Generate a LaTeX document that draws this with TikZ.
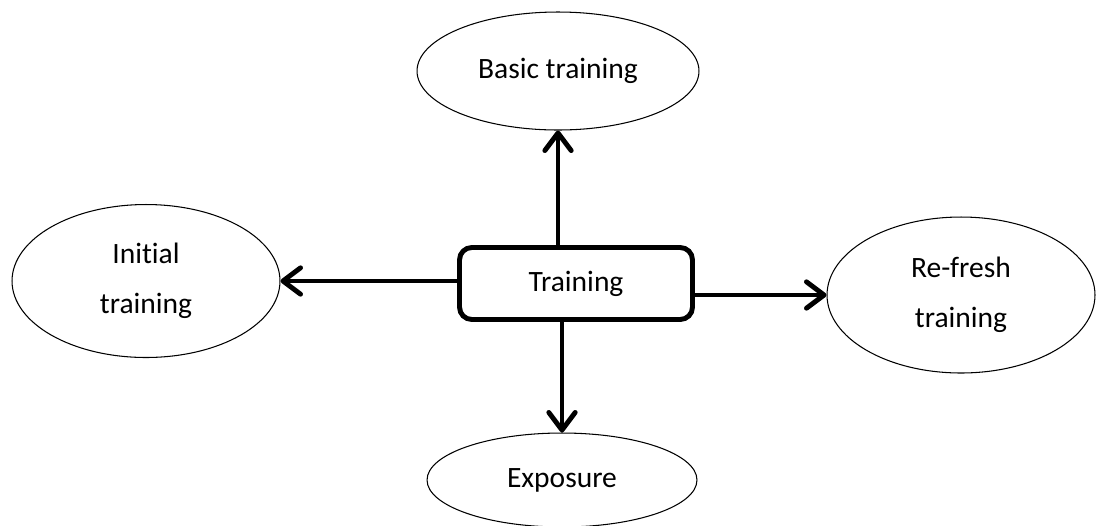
\documentclass[tikz,border=0pt]{standalone}
\usepackage{fontspec}
\setmainfont{Carlito}[Ligatures=NoCommon]
\usetikzlibrary{shapes.geometric,arrows.meta}
\begin{document}
\begin{tikzpicture}[x=0.02cm, y=-0.02cm,
        bubble/.style={draw, ellipse, line width=0.6pt, inner sep=0pt, align=center, font=\fontsize{16.8}{28.5}\selectfont},
        hub/.style={draw, rectangle, rounded corners=7pt, line width=2.8pt, inner sep=0pt, font=\fontsize{16.8}{28.5}\selectfont},
        link/.style={line width=2.8pt, -{Straight Barb[length=10pt, width=15pt, round]}}]
    \useasboundingbox (0,0) rectangle (1097,525);

    \node [hub, minimum width=4.66cm, minimum height=1.44cm] (training) at (576, 283.5) {Training};

    \node [bubble, minimum width=5.64cm, minimum height=2.36cm] (basic) at (558, 71) {Basic training};
    \node [bubble, minimum width=5.36cm, minimum height=3.06cm] (initial) at (146, 281) {Initial\\training};
    \node [bubble, minimum width=5.36cm, minimum height=3.12cm] (refresh) at (961, 295) {Re-fresh\\training};
    \node [bubble, minimum width=5.4cm, minimum height=1.88cm] (exposure) at (562, 480) {Exposure};

    \draw [link] (training.north -| basic.south) -- (basic.south);
    \draw [link] (training.south -| exposure.north) -- (exposure.north);
    \draw [link] (training.west |- initial.east) -- (initial.east);
    \draw [link] (training.east |- refresh.west) -- (refresh.west);
\end{tikzpicture}
\end{document}
